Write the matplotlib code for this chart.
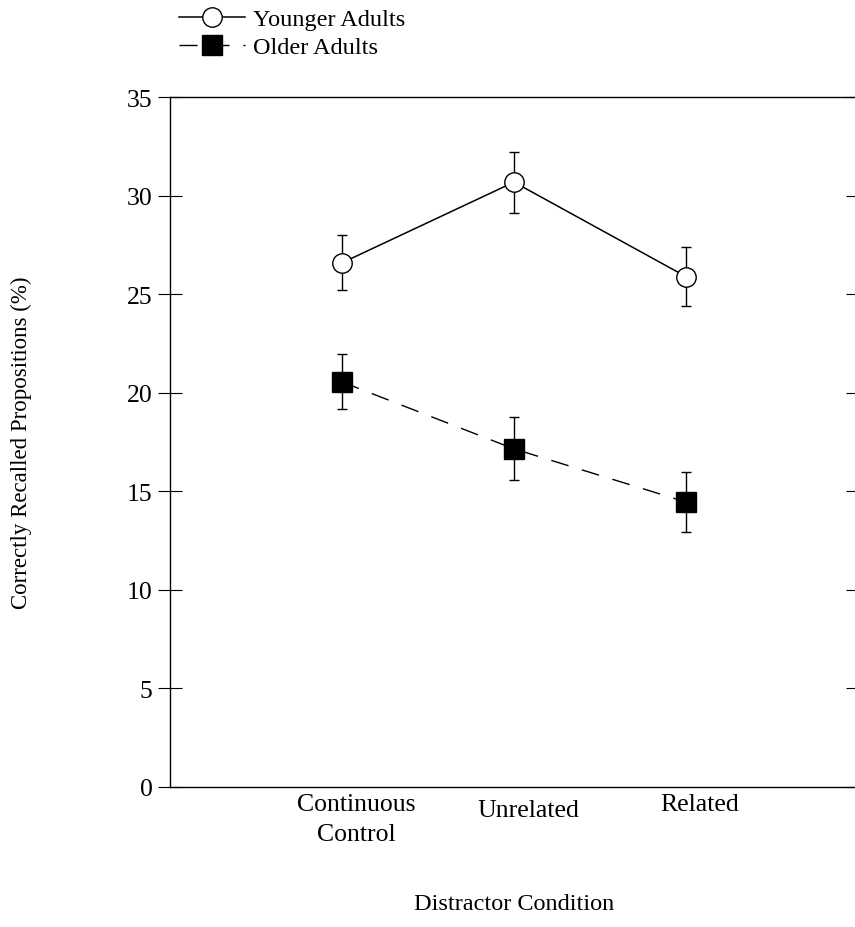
import numpy as np
import matplotlib.pyplot as plt
from matplotlib.transforms import ScaledTranslation

plt.rcParams['font.family'] = ['Liberation Serif', 'DejaVu Serif']

conditions = ['Continuous\nControl', 'Unrelated', 'Related']
younger_mean = [26.6, 30.7, 25.9]
younger_err = [1.4, 1.55, 1.5]
older_mean = [20.55, 17.15, 14.45]
older_err = [1.4, 1.6, 1.5]
y_ticks = [0, 5, 10, 15, 20, 25, 30, 35]

x = np.arange(1, len(conditions) + 1)

fig = plt.figure(figsize=(8.55, 9.28), dpi=100)
ax = fig.add_axes([0.1988, 0.1514, 0.8047, 0.7425])

young = ax.errorbar(x, younger_mean, yerr=younger_err, color='black', lw=1.1,
                    marker='o', markersize=14, markerfacecolor='white',
                    markeredgecolor='black', markeredgewidth=1.0,
                    elinewidth=1.0, capsize=3.4, capthick=1.0, zorder=3)
old = ax.errorbar(x, older_mean, yerr=older_err, color='black', lw=1.0,
                  linestyle=(0, (13, 10)),
                  marker='s', markersize=14, markerfacecolor='black',
                  markeredgecolor='black',
                  elinewidth=1.0, capsize=3.4, capthick=1.0, zorder=3)

ax.set_xlim(0, 4)
ax.set_ylim(0, 35)
ax.set_yticks(y_ticks)
ax.set_xticks(x)
ax.set_xticklabels(conditions, fontsize=18.5, linespacing=1.45)

ax.tick_params(axis='x', length=0, pad=5)
ax.tick_params(axis='y', direction='inout', length=17, width=0.8,
               labelsize=18.5, pad=4, right=True)

ax.spines['right'].set_visible(False)
for side in ['left', 'top', 'bottom']:
    ax.spines[side].set_linewidth(1.0)

# nudge the category labels a little to the right, "Unrelated" slightly lower
for i, lbl in enumerate(ax.get_xticklabels()):
    dy = -0.06 if i == 1 else 0.0
    lbl.set_transform(lbl.get_transform() + ScaledTranslation(0.14, dy, fig.dpi_scale_trans))

ax.set_xlabel('Distractor Condition', fontsize=17.5)
ax.xaxis.set_label_coords(0.5, -0.155)
ax.set_ylabel('Correctly Recalled Propositions (%)', fontsize=16.5)
ax.yaxis.set_label_coords(-0.20, 0.5)

# legend shows the plain line + marker, without the error bars
ax.legend([young[0], old[0]], ['Younger Adults', 'Older Adults'],
          loc='upper left', bbox_to_anchor=(0.195, 1.003),
          bbox_transform=fig.transFigure, frameon=False, fontsize=17.5,
          handlelength=2.7, handletextpad=0.35, labelspacing=0.25,
          borderpad=0)

fig.savefig('out.png', dpi=100)
